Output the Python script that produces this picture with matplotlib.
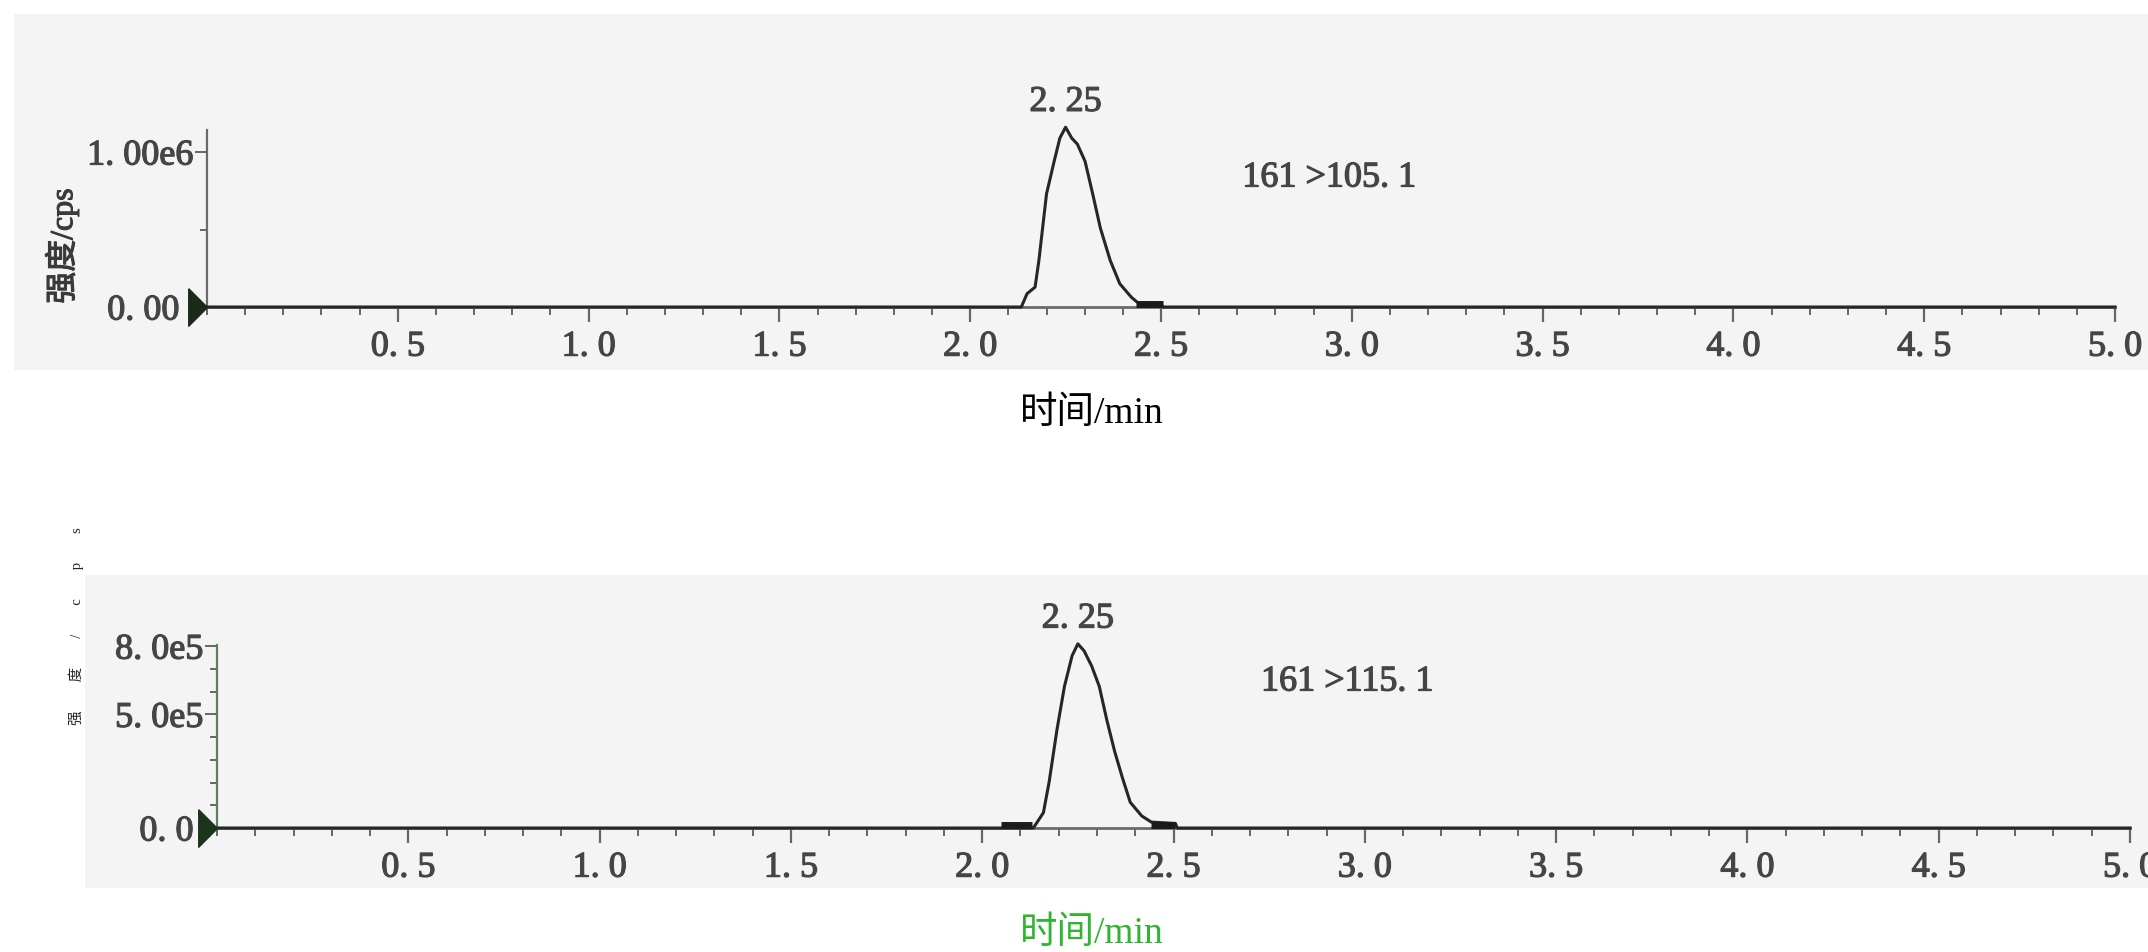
import matplotlib
matplotlib.use("Agg")
import matplotlib.pyplot as plt
import matplotlib.transforms as mtransforms
import matplotlib.patheffects as pe
from matplotlib.patches import Rectangle
from matplotlib.ticker import FixedLocator, MultipleLocator

plt.rcParams['font.family'] = ['Liberation Serif', 'Noto Sans CJK SC', 'DejaVu Sans']

# ---------------- data ----------------
x_ticks = [0.5, 1.0, 1.5, 2.0, 2.5, 3.0, 3.5, 4.0, 4.5, 5.0]
x_tick_labels = ["0. 5", "1. 0", "1. 5", "2. 0", "2. 5", "3. 0", "3. 5", "4. 0", "4. 5", "5. 0"]

# top chromatogram: 161 > 105.1
top_time = [0.0, 2.134, 2.149, 2.170, 2.180, 2.200, 2.220, 2.235, 2.250, 2.266, 2.281,
            2.301, 2.321, 2.341, 2.367, 2.392, 2.422, 2.437, 2.450, 2.500, 2.505, 5.0]
top_int = [0.0, 0.0, 0.086e6, 0.128e6, 0.30e6, 0.73e6, 0.94e6, 1.09e6, 1.16e6, 1.09e6, 1.05e6,
           0.94e6, 0.73e6, 0.51e6, 0.30e6, 0.15e6, 0.064e6, 0.032e6, 0.02e6, 0.02e6, 0.0, 0.0]
top_base_marks = [(2.435, 2.505)]
top_yticks = [0.0, 1.0e6]
top_ytick_labels = ["0. 00", "1. 00e6"]
top_yminor = [0.5e6]
top_label = "161 >105. 1"
top_peak_rt = 2.25
top_peak_label = "2. 25"

# bottom chromatogram: 161 > 115.1
bot_time = [0.0, 2.050, 2.130, 2.134, 2.160, 2.175, 2.195, 2.215, 2.235, 2.250, 2.266, 2.286,
            2.306, 2.326, 2.346, 2.367, 2.387, 2.417, 2.442, 2.505, 2.510, 5.0]
bot_int = [0.0, 0.0, 0.0, 0.0075e5, 0.675e5, 2.03e5, 4.28e5, 6.23e5, 7.58e5, 8.1e5, 7.8e5, 7.13e5,
           6.23e5, 4.73e5, 3.38e5, 2.18e5, 1.13e5, 0.53e5, 0.26e5, 0.2e5, 0.0, 0.0]
bot_base_marks = [(2.05, 2.13), (2.442, 2.505)]
bot_yticks = [0.0, 5.0e5, 8.0e5]
bot_ytick_labels = ["0. 0", "5. 0e5", "8. 0e5"]
bot_yminor = [1e5, 2e5, 3e5, 4e5, 6e5, 7e5]
bot_label = "161 >115. 1"
bot_peak_rt = 2.25
bot_peak_label = "2. 25"

# ---------------- figure ----------------
W, H = 2148, 952
fig = plt.figure(figsize=(W / 100, H / 100), dpi=100)
fig.patch.set_facecolor('white')


def fx(px):
    return px / W


def fy(py):
    return 1 - py / H


# gray panel backgrounds
fig.patches.append(Rectangle((fx(14), fy(370)), fx(2148 - 14), (370 - 14) / H,
                             transform=fig.transFigure, facecolor='#f4f4f4', edgecolor='none', zorder=-5))
fig.patches.append(Rectangle((fx(85), fy(888)), fx(2148 - 85), (888 - 575) / H,
                             transform=fig.transFigure, facecolor='#f4f4f4', edgecolor='none', zorder=-5))

tick_color = '#454545'
heavy = [pe.withStroke(linewidth=0.9, foreground=tick_color)]
tick_font = dict(family=['Liberation Serif'], size=26, color=tick_color)
tri_verts = [(-1, 1), (0, 0), (-1, -1), (-1, 1)]


def make_axes(rect, ylim, yticks, ylabels, yminor, time, inten, marks, peak_rt, peak_label, trans_label,
              label_xy, spine_col, tri_col, zero_shift):
    ax = fig.add_axes(rect)
    ax.set_zorder(2)
    ax.set_facecolor('none')
    ax.set_xlim(0, 5.0)
    ax.set_ylim(*ylim)
    for s in ['top', 'right']:
        ax.spines[s].set_visible(False)
    ax.spines['left'].set_color(spine_col)
    ax.spines['bottom'].set_color('#6a6a6a')
    ax.spines['left'].set_linewidth(1.6)
    ax.spines['bottom'].set_linewidth(2.0)

    ax.xaxis.set_major_locator(FixedLocator(x_ticks))
    ax.set_xticklabels(x_tick_labels, **tick_font)
    ax.xaxis.set_minor_locator(MultipleLocator(0.1))
    ax.tick_params(axis='x', which='major', direction='out', length=11, width=1.6, color='#666666', pad=6)
    ax.tick_params(axis='x', which='minor', direction='out', length=6, width=1.4, color='#666666')

    ax.yaxis.set_major_locator(FixedLocator(yticks))
    ax.set_yticklabels(ylabels, **tick_font)
    ax.yaxis.set_minor_locator(FixedLocator(yminor))
    ax.tick_params(axis='y', which='major', direction='out', length=9, width=1.4, color='#666666', pad=1)
    ax.tick_params(axis='y', which='minor', direction='out', length=5, width=1.4, color='#666666')
    for t in ax.get_xticklabels() + ax.get_yticklabels():
        t.set_path_effects(heavy)
    # the zero label sits left of the origin triangle
    zl = ax.get_yticklabels()[0]
    zl.set_transform(zl.get_transform() + mtransforms.ScaledTranslation(-zero_shift / 72, 0,
                                                                        fig.dpi_scale_trans))

    ax.plot(time, inten, color='#262626', lw=2.2, clip_on=False, zorder=3, solid_joinstyle='round')
    for a, b in marks:
        ax.plot([a, b], [ylim[1] * 0.018, ylim[1] * 0.018], color='#1a1a1a', lw=5.0,
                solid_capstyle='butt', clip_on=False, zorder=4)

    # triangle marker at origin
    ax.plot([0], [0], marker=tri_verts, markersize=27,
            color=tri_col, markeredgecolor=tri_col, clip_on=False, zorder=5)

    top_val = max(inten)
    ax.annotate(peak_label, xy=(peak_rt, top_val), xytext=(0, 6), textcoords='offset points',
                ha='center', va='bottom', annotation_clip=False, path_effects=heavy, **tick_font)
    ax.text(label_xy[0], label_xy[1], trans_label, transform=fig.transFigure,
            ha='center', va='center', path_effects=heavy, **tick_font)
    return ax


ax1 = make_axes([fx(207), fy(307), (2115 - 207) / W, (307 - 130) / H], (0, 1.142e6),
                top_yticks, top_ytick_labels, top_yminor, top_time, top_int, top_base_marks,
                top_peak_rt, top_peak_label, top_label, (fx(1329), fy(178)), '#6a6a6a', '#1c2a1c', 10)

ax2 = make_axes([fx(217), fy(828), (2130 - 217) / W, (828 - 645) / H], (0, 8.05e5),
                bot_yticks, bot_ytick_labels, bot_yminor, bot_time, bot_int, bot_base_marks,
                bot_peak_rt, bot_peak_label, bot_label, (fx(1347), fy(682)), '#5c7f5c', '#1c331c', 7)

# axis titles
cjk = ['Liberation Serif', 'Noto Sans CJK SC']
fig.text(fx(1092), fy(414), "时间/min", ha='center', va='center', fontsize=27, color='black', family=cjk)
fig.text(fx(1092), fy(934), "时间/min", ha='center', va='center', fontsize=27, color='#2fb52f', family=cjk)
fig.text(fx(62), fy(246), "强度/cps", ha='center', va='center', rotation=90, fontsize=23,
         color='#3a3a3a', family=cjk, path_effects=[pe.withStroke(linewidth=0.8, foreground='#3a3a3a')])
fig.text(fx(76), fy(626), "强        度        /        c        p        s", ha='center', va='center',
         rotation=90, fontsize=10.5, color='#222222', family=cjk)

fig.savefig("out.png", dpi=100, facecolor='white')
